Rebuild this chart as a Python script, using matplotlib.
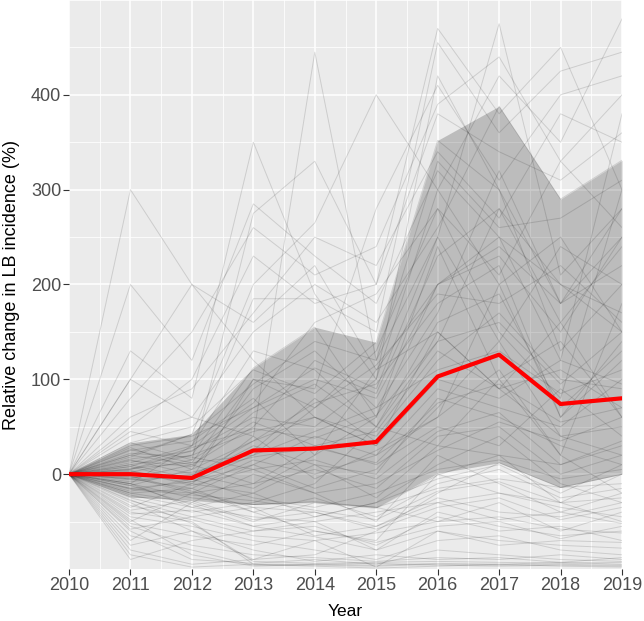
import numpy as np
import matplotlib
matplotlib.use('Agg')
import matplotlib.pyplot as plt
from matplotlib.ticker import MultipleLocator

plt.rcParams['font.family'] = ['Liberation Sans', 'DejaVu Sans']

# Годы
years = [2010, 2011, 2012, 2013, 2014, 2015, 2016, 2017, 2018, 2019]

# Медиана (красная линия)
median = [0, 0, -4, 25, 27, 34, 103, 126, 74, 80]

# Границы серой полосы
band_low = [0, -24, -27, -32, -29, -35, 1, 12, -14, 0]
band_high = [0, 33, 42, 112, 155, 139, 352, 388, 290, 331]

# Отдельные ряды (относительное изменение, %)
series = [
    [0, 300, 200, 120, 60, 30, 150, 90, 40, 20],
    [0, 200, 120, 285, 230, 180, 320, 250, 200, 150],
    [0, 130, 80, 350, 190, 100, 420, 300, 180, 250],
    [0, 100, 60, 40, 445, 120, 250, 475, 210, 280],
    [0, 33, 15, 275, 330, 200, 470, 380, 450, 300],
    [0, 20, 42, 200, 265, 400, 300, 420, 350, 480],
    [0, -10, 30, 185, 185, 150, 455, 360, 425, 445],
    [0, 10, -5, 100, 90, 280, 410, 310, 400, 420],
    [0, 5, 20, 112, 155, 60, 200, 250, 120, 380],
    [0, -5, 10, 50, 120, 90, 250, 140, 240, 200],
    [0, 15, 0, 25, 80, 34, 103, 126, 74, 80],
    [0, -15, -20, 10, 40, 20, 60, 200, 60, 120],
    [0, 25, 35, 80, 20, 110, 150, 90, 160, 60],
    [0, -25, -40, -30, -10, 50, 30, 100, 20, 180],
    [0, -30, -60, -90, -85, -60, -20, 12, -14, 0],
    [0, -40, -50, -95, -95, -96, -94, -95, -93, -95],
    [0, -60, -90, -94, -90, -95, -80, -85, -90, -92],
    [0, -80, -95, -90, -70, -98, -60, -75, -70, -72],
    [0, -90, -70, -60, -50, -80, -40, -55, -65, -60],
    [0, -70, -30, -50, -30, -35, -50, -30, -60, -40],
    [0, -50, -20, -40, -60, -70, 0, -20, -30, -50],
    [0, -35, -10, -20, -45, -30, 10, 40, -10, -30],
    [0, -20, -30, 0, -20, -50, 20, -10, -40, -20],
    [0, -10, -25, -32, -30, -36, -1, 20, 10, 30],
    [0, 0, -4, 30, 10, 0, 80, 60, 30, 10],
    [0, 10, 20, 45, 60, 40, 120, 170, 100, 90],
    [0, 30, 40, 70, 100, 80, 200, 230, 150, 250],
    [0, 20, 10, -10, 30, 10, 50, 30, 90, 40],
    [0, -5, -15, 15, 0, 20, 90, 70, 50, 100],
    [0, 5, 25, 60, 50, 100, 300, 200, 250, 150],
    [0, -12, 5, 90, 130, 70, 170, 320, 180, 220],
    [0, 8, -8, 20, 70, 130, 280, 150, 80, 300],
    [0, 12, 30, 130, 110, 50, 140, 280, 200, 170],
    [0, -8, 0, -15, 20, 60, 240, 100, 140, 60],
    [0, 3, -10, 40, -5, 25, 60, 110, 20, -20],
    [0, -22, -35, -45, -50, -40, -30, -20, -35, -45],
    [0, -28, -45, -60, -55, -75, -45, -60, -55, -70],
    [0, -45, -55, -70, -80, -90, -70, -65, -80, -85],
    [0, -55, -75, -85, -88, -92, -88, -90, -85, -90],
    [0, -65, -80, -96, -96, -97, -95, -96, -95, -96],
    [0, -75, -60, -80, -92, -85, -90, -88, -93, -88],
    [0, -85, -98, -95, -97, -99, -97, -95, -97, -98],
    [0, -18, -5, -25, -35, -20, 5, 15, -5, 5],
    [0, 2, 15, 55, 30, 45, 130, 90, 110, 70],
    [0, 18, 42, 95, 140, 120, 330, 260, 270, 310],
    [0, 28, 5, 35, 75, 95, 180, 220, 60, 140],
    [0, 33, 50, 110, 85, 139, 352, 300, 130, 200],
    [0, 40, 60, 150, 200, 160, 260, 388, 290, 331],
    [0, 50, 100, 230, 180, 200, 380, 340, 310, 360],
    [0, 60, 90, 170, 250, 220, 340, 270, 380, 350],
    [0, -3, -20, -10, 5, -15, 40, 50, 0, 20],
    [0, -15, -8, 10, -15, 5, 70, 140, 40, 50],
    [0, 6, 12, 20, 45, 70, 110, 130, 85, 110],
    [0, -6, -2, 35, 60, 30, 100, 80, 120, 95],
    [0, 14, 8, 65, 95, 50, 160, 190, 70, 130],
    [0, -24, -28, -32, -29, -35, -15, -5, -14, -10],
    [0, 22, 18, 5, -20, -10, 25, 55, 35, 60],
    [0, -2, -18, -35, -40, -55, -25, -40, -45, -30],
    [0, 100, 200, 160, 220, 110, 200, 240, 180, 280],
    [0, 45, 30, 75, 160, 190, 280, 210, 330, 260],
    [0, -33, -48, -65, -70, -62, -50, -45, -58, -62],
    [0, -42, -38, -55, -66, -80, -60, -70, -75, -78],
    [0, -52, -65, -75, -60, -72, -55, -50, -68, -55],
    [0, -38, -28, -48, -40, -58, -35, -25, -48, -35],
    [0, -27, -52, -92, -94, -93, -92, -93, -94, -93],
    [0, -48, -85, -97, -95, -94, -96, -97, -96, -97],
    [0, -20, -15, -40, -25, -45, -10, 5, -25, -15],
    [0, -12, -32, -55, -45, -30, -5, 10, -20, 10],
    [0, -58, -45, -35, -65, -55, -30, -48, -40, -52],
    [0, -16, -22, -28, -38, -48, -18, -8, -30, -25],
    [0, 8, 28, 48, 38, 62, 140, 160, 95, 150],
    [0, -4, 2, 18, 28, 12, 75, 95, 55, 70],
    [0, 16, 24, 70, 112, 85, 230, 280, 160, 240],
    [0, 4, -12, 5, 15, -5, 45, 65, 10, 35],
    [0, 26, 12, 100, 70, 115, 190, 180, 220, 160],
    [0, -10, -35, -20, 10, -25, 30, 20, -30, 0],
    [0, 80, 150, 260, 210, 240, 390, 440, 330, 400],
]

fig = plt.figure(figsize=(6.44, 6.21), dpi=100)
ax = fig.add_axes([69 / 644, 52 / 621, 553 / 644, 569 / 621])
ax.set_facecolor('#EBEBEB')

# Тонкие линии
for s in series:
    ax.plot(years, s, color='black', alpha=0.13, lw=0.7, zorder=2)

# Полоса (полупрозрачная, сетка просвечивает)
ax.fill_between(years, band_low, band_high, color='black', alpha=0.2, lw=0, zorder=2.5)

# Медиана
ax.plot(years, median, color='#FF0000', lw=3.0, zorder=3)

ax.set_xlim(2010, 2019)
ax.set_ylim(-100, 500)
ax.set_xticks(years)
ax.set_yticks([0, 100, 200, 300, 400])
ax.xaxis.set_minor_locator(MultipleLocator(0.5))
ax.yaxis.set_minor_locator(MultipleLocator(50))
ax.grid(which='major', color='white', lw=1.1, zorder=0)
ax.grid(which='minor', color='white', lw=0.55, zorder=0)
ax.set_axisbelow(True)
for sp in ax.spines.values():
    sp.set_visible(False)

ax.tick_params(which='major', length=4, width=0.8, color='#333333',
               labelsize=13, labelcolor='#4D4D4D')
ax.tick_params(axis='x', which='major', pad=2)
ax.tick_params(axis='y', which='major', pad=1.5)
ax.tick_params(which='minor', length=0)

ax.set_xlabel('Year', fontsize=12.5)
ax.set_ylabel('Relative change in LB incidence (%)', fontsize=13)
ax.xaxis.set_label_coords(0.5, -50 / 569)
ax.xaxis.label.set_va('bottom')
ax.yaxis.set_label_coords(-49 / 553, 0.5)

fig.savefig('out.png', dpi=100)
